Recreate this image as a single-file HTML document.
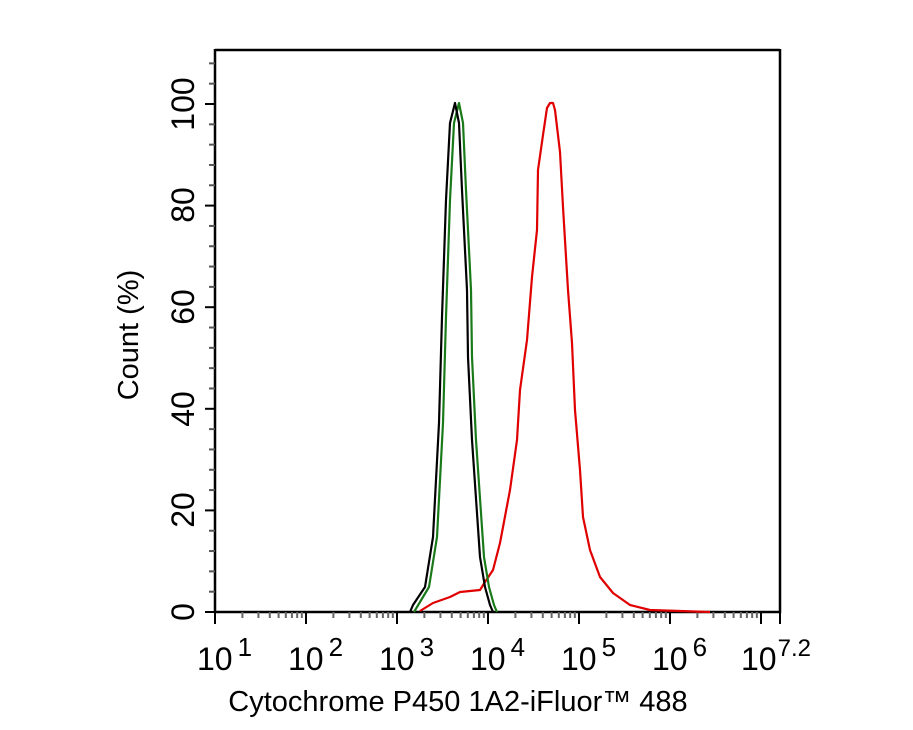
<!DOCTYPE html>
<html><head><meta charset="utf-8"><style>
html,body{margin:0;padding:0;background:#fff;}
svg{display:block;font-family:"Liberation Sans",Arial,sans-serif;}
</style></head><body>
<svg width="913" height="730" viewBox="0 0 913 730" xmlns="http://www.w3.org/2000/svg" xml:space="preserve">
<g stroke="#000" stroke-width="2.5" fill="none">
<line x1="215" y1="50" x2="780" y2="50"/>
<line x1="215" y1="49" x2="215" y2="613"/>
<line x1="780" y1="49" x2="780" y2="613"/>
<line x1="214" y1="612" x2="781" y2="612"/>
</g>
<g id="yt" stroke="#000" stroke-width="2"></g>
<g id="xt" stroke="#000" stroke-width="2"></g>
<g font-size="32" fill="#000" text-anchor="middle">
<text transform="translate(183,612) rotate(-90)" dy="11">0</text>
<text transform="translate(183,510) rotate(-90)" dy="11">20</text>
<text transform="translate(183,409) rotate(-90)" dy="11">40</text>
<text transform="translate(183,307) rotate(-90)" dy="11">60</text>
<text transform="translate(183,205) rotate(-90)" dy="11">80</text>
<text transform="translate(183,104) rotate(-90)" dy="11">100</text>
<text transform="translate(138,335) rotate(-90)" font-size="29">Count  (%)</text>
</g>
<g font-size="32" fill="#000">
<text x="197" y="670">10<tspan dx="5" dy="-14" font-size="26">1</tspan></text>
<text x="288" y="670">10<tspan dx="5" dy="-14" font-size="26">2</tspan></text>
<text x="379" y="670">10<tspan dx="5" dy="-14" font-size="26">3</tspan></text>
<text x="470" y="670">10<tspan dx="5" dy="-14" font-size="26">4</tspan></text>
<text x="561" y="670">10<tspan dx="5" dy="-14" font-size="26">5</tspan></text>
<text x="652" y="670">10<tspan dx="5" dy="-14" font-size="26">6</tspan></text>
<text x="741" y="670">10<tspan dx="1" dy="-14" font-size="24">7.2</tspan></text>
<text x="458" y="711" text-anchor="middle" font-size="29">Cytochrome P450 1A2-iFluor™ 488</text>
</g>
<g fill="none" stroke-width="2.2" stroke-linejoin="round">
<polyline stroke="#e00000" points="420,611 433,603 450,597 460,592 480,590 485,582 493,570 500,543 510,490 517,440 520,390 527,340 532,277 537,230 538,170 543,135 547,108 550,103 553,103 555,110 560,152 563,207 568,290 572,343 575,410 580,470 583,517 590,550 600,577 613,593 630,605 650,610 680,611 710,612"/>
<polyline stroke="#1a7a1a" points="414,612 417,607 429,587 437,537 443,423 446,317 450,200 454,123 459,103 463,123 466,190 471,290 472,357 476,440 484,557 489,587 494,605 497,612"/>
<polyline stroke="#000" points="410,612 413,605 425,587 433,537 439,423 442,317 446,200 450,123 455,103 459,123 462,190 467,290 468,357 472,440 480,557 485,587 490,605 493,612"/>
</g>
<script>
var ns="http://www.w3.org/2000/svg";
var yt=document.getElementById("yt"),xt=document.getElementById("xt");
function ln(g,x1,y1,x2,y2,c){var l=document.createElementNS(ns,"line");l.setAttribute("x1",x1);l.setAttribute("y1",y1);l.setAttribute("x2",x2);l.setAttribute("y2",y2);if(c)l.setAttribute("stroke",c);g.appendChild(l);}
for(var v=0;v<=108;v+=4){var y=612-v*5.08;var maj=v%20==0;ln(yt,maj?205:209,y,215,y,maj?"#000":"#555");}
for(var d=1;d<=7;d++){var x0=215+(d-1)*91;ln(xt,x0,612,x0,624,"#000");for(var k=2;k<10;k++){var x=x0+Math.log10(k)*91;if(x<780)ln(xt,x,612,x,618,"#666");}}
ln(xt,780,612,780,624,"#000");
</script>
</svg>
</body></html>
